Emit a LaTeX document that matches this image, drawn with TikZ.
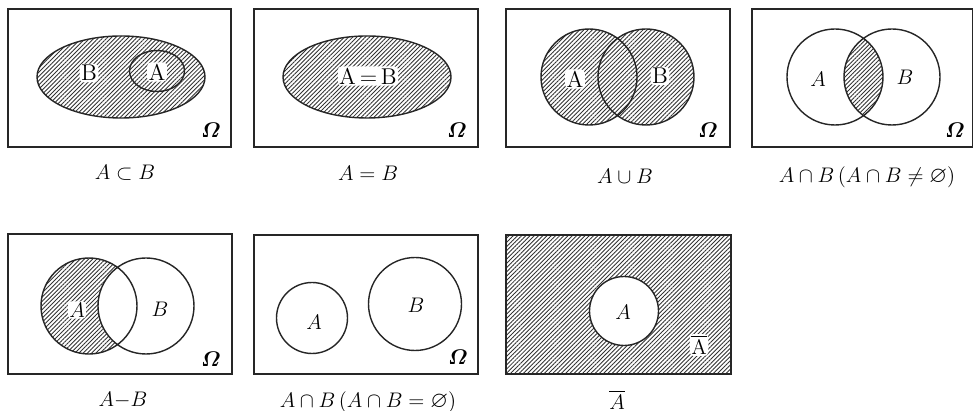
\documentclass[tikz,border=0pt]{standalone}
\usepackage{amsmath,amssymb,bm}
\usetikzlibrary{patterns.meta}

\tikzset{
  venn/.style={line width=0.8pt,draw=black!85},
  hatch/.style={pattern={Lines[angle=45,distance=1.7pt,line width=0.5pt]},pattern color=black!80},
  setlbl/.style={font=\fontsize{13}{15}\selectfont},
  halo/.style={setlbl,fill=white,inner sep=0.8pt,rounded corners=2pt},
  caption/.style={font=\fontsize{13}{15}\selectfont,inner sep=0pt},
}

\begin{document}
\begin{tikzpicture}[x=0.02cm,y=-0.02cm]
  \useasboundingbox (0,0) rectangle (974,411);
  % A subset B
  \draw[venn] (8,9) rectangle (231,147);
  \draw[venn,hatch] (121,77) ellipse (84 and 41);
  \draw[venn] (157,71) ellipse (27.5 and 20.5);
  \node[halo] (b1) at (89,73) {B};
  \node[halo] (a1) at (157,72) {A};
  \node[setlbl] (o1) at (211,130) {$\bm{\varOmega}$};
  \node[caption] (c1) at (125,173) {$A\subset B$};
  % A = B
  \draw[venn] (254,9) rectangle (478,147);
  \draw[venn,hatch] (367,77) ellipse (84 and 41);
  \node[halo] (ab2) at (368,76) {A\,=\,B};
  \node[setlbl] (o2) at (457,130) {$\bm{\varOmega}$};
  \node[caption] (c2) at (368,173) {$A=B$};
  % union
  \draw[venn] (506,9) rectangle (730,147);
  \fill[hatch] (589,77) circle[radius=48] (646,77) circle[radius=48];
  \draw[venn] (589,77) circle[radius=48] (646,77) circle[radius=48];
  \node[halo] (a3) at (575,79) {A};
  \node[halo] (b3) at (660,76) {B};
  \node[setlbl] (o3) at (708,130) {$\bm{\varOmega}$};
  \node[caption] (c3) at (625,176) {$A\cup B$};
  % intersection
  \draw[venn] (752,9) rectangle (972.5,147);
  \begin{scope}
    \clip (835,77) circle[radius=48];
    \fill[hatch] (892,77) circle[radius=48];
  \end{scope}
  \draw[venn] (835,77) circle[radius=48] (892,77) circle[radius=48];
  \node[setlbl] (a4) at (818,79) {$A$};
  \node[setlbl] (b4) at (905,77) {$B$};
  \node[setlbl] (o4) at (955,130) {$\bm{\varOmega}$};
  \node[caption] (c4) at (867,177) {$A\cap B\,(A\cap B\neq\varnothing)$};
  % difference
  \draw[venn] (8,234) rectangle (232,374);
  \fill[hatch] (89,306) circle[radius=48];
  \fill[white] (146,306) circle[radius=48];
  \draw[venn] (89,306) circle[radius=48] (146,306) circle[radius=48];
  \node[halo] (a5) at (77,310) {$A$};
  \node[setlbl] (b5) at (160,309) {$B$};
  \node[setlbl] (o5) at (211,359) {$\bm{\varOmega}$};
  \node[caption] (c5) at (123,400) {$A{-}B$};
  % disjoint
  \draw[venn] (254,235) rectangle (478,374);
  \draw[venn] (312,318) circle[radius=35.5];
  \draw[venn] (415,304) circle[radius=46.5];
  \node[setlbl] (a6) at (314,322) {$A$};
  \node[setlbl] (b6) at (416,305) {$B$};
  \node[setlbl] (o6) at (458,357) {$\bm{\varOmega}$};
  \node[caption] (c6) at (368,402) {$A\cap B\,(A\cap B=\varnothing)$};
  % complement
  \fill[hatch] (506,235) rectangle (731,374);
  \fill[white] (624,311) circle[radius=34.5];
  \draw[venn] (506,235) rectangle (731,374);
  \draw[venn] (624,311) circle[radius=34.5];
  \node[setlbl] (a7) at (623,312) {$A$};
  \node[halo] (n7) at (699,345) {$\overline{\mathrm{A}}$};
  \node[caption] (c7) at (617,400) {$\overline{A}$};
\end{tikzpicture}
\end{document}
